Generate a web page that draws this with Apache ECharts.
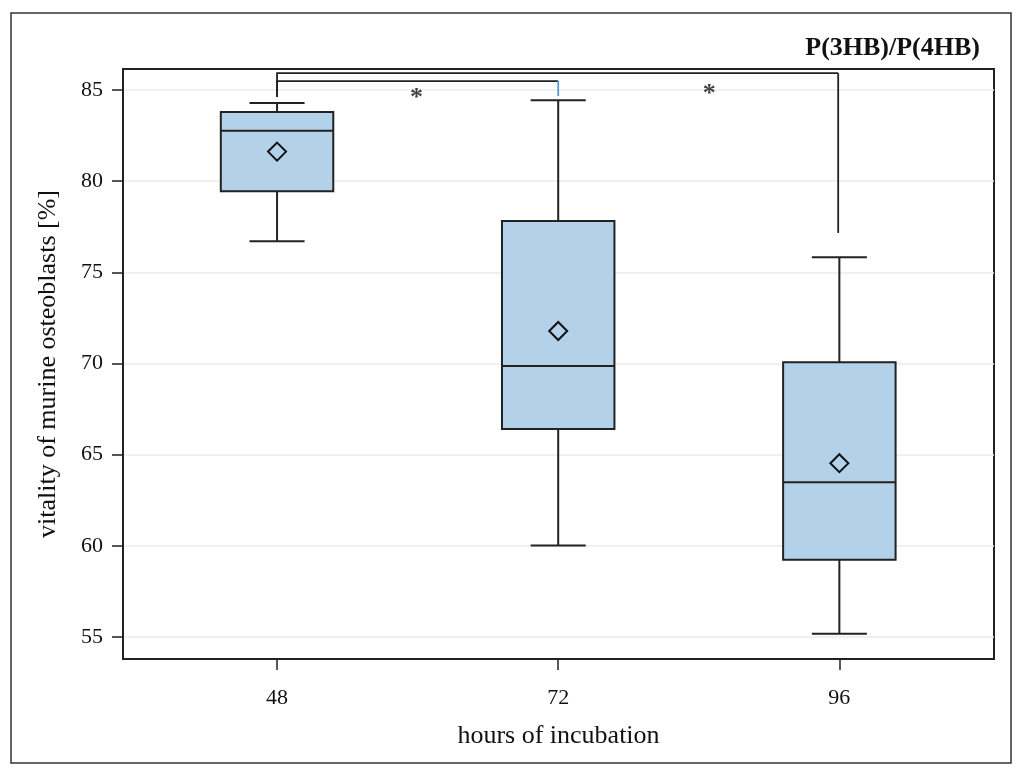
<!DOCTYPE html>
<html>
<head>
  <meta charset='utf-8'>
  <script src="https://cdn.jsdelivr.net/npm/echarts@6/dist/echarts.min.js"></script>
  <title>vitality box plot</title>
  <style>
    html, body { margin: 0; padding: 0; background: #fff; }
    #chart { width: 1024px; height: 779px; }
  </style>
</head>
<body>
<div id="chart"></div>
<script type="text/javascript">
  // 数据
  var hours = [48, 72, 96];
  var whiskerLow = [76.70, 60.02, 55.18];
  var q1 = [79.44, 66.41, 59.24];
  var median = [82.77, 69.86, 63.48];
  var q3 = [83.79, 77.82, 70.07];
  var whiskerHigh = [84.29, 84.43, 75.82];
  var mean = [81.62, 71.78, 64.53];
  var yTicks = [55, 60, 65, 70, 75, 80, 85];

  // significance brackets
  var bracketFrom = [48, 48];
  var bracketTo = [72, 95.9];
  var bracketLevel = [85.49, 85.92];
  var bracketFromEnd = [84.62, 84.62];
  var bracketToEnd = [84.67, 77.16];
  var starX = [59.9, 84.9];
  var starY = [84.56, 84.78];

  var FONT = 'Liberation Serif';
  var BOX_W = 9.6;   // in hours
  var CAP_W = 4.7;
  var INK = '#222';

  var boxData = hours.map(function (h, i) {
    return [h, whiskerLow[i], q1[i], median[i], q3[i], whiskerHigh[i], mean[i]];
  });
  var bracketData = bracketFrom.map(function (f, i) {
    return [f, bracketTo[i], bracketLevel[i], bracketFromEnd[i], bracketToEnd[i], i];
  });
  var starData = starX.map(function (x, i) { return [x, starY[i]]; });

  function renderBox(params, api) {
    var x = api.value(0);
    var pLow = api.coord([x, api.value(1)]);
    var pQ1 = api.coord([x, api.value(2)]);
    var pMed = api.coord([x, api.value(3)]);
    var pQ3 = api.coord([x, api.value(4)]);
    var pHigh = api.coord([x, api.value(5)]);
    var pMean = api.coord([x, api.value(6)]);
    var hb = api.size([BOX_W, 0])[0] / 2;
    var hc = api.size([CAP_W, 0])[0] / 2;
    var cx = pMed[0];
    var ln = { stroke: INK, lineWidth: 2 };
    var d = 9;
    return {
      type: 'group',
      children: [
        { type: 'line', shape: { x1: cx, y1: pHigh[1], x2: cx, y2: pQ3[1] }, style: ln },
        { type: 'line', shape: { x1: cx - hc, y1: pHigh[1], x2: cx + hc, y2: pHigh[1] }, style: ln },
        { type: 'line', shape: { x1: cx, y1: pQ1[1], x2: cx, y2: pLow[1] }, style: ln },
        { type: 'line', shape: { x1: cx - hc, y1: pLow[1], x2: cx + hc, y2: pLow[1] }, style: ln },
        { type: 'rect', shape: { x: cx - hb, y: pQ3[1], width: hb * 2, height: pQ1[1] - pQ3[1] },
          style: { fill: '#b3d2ea', stroke: INK, lineWidth: 2 } },
        { type: 'line', shape: { x1: cx - hb, y1: pMed[1], x2: cx + hb, y2: pMed[1] }, style: ln },
        { type: 'polygon', shape: { points: [[cx, pMean[1] - d], [cx + d, pMean[1]], [cx, pMean[1] + d], [cx - d, pMean[1]]] },
          style: { fill: 'none', stroke: '#111', lineWidth: 2 } }
      ]
    };
  }

  function renderBracket(params, api) {
    var a = api.coord([api.value(0), api.value(2)]);
    var b = api.coord([api.value(1), api.value(2)]);
    var aEnd = api.coord([api.value(0), api.value(3)]);
    var bEnd = api.coord([api.value(1), api.value(4)]);
    var idx = api.value(5);
    var ln = { stroke: INK, lineWidth: 1.8, fill: 'none' };
    var kids = [
      { type: 'polyline', shape: { points: [aEnd, a, b] }, style: ln }
    ];
    if (idx === 0) {
      // 第一个括号右端是蓝色的小竖线
      kids.push({ type: 'line', shape: { x1: b[0], y1: b[1], x2: bEnd[0], y2: bEnd[1] },
        style: { stroke: '#5b9bd5', lineWidth: 1.8 } });
    } else {
      kids.push({ type: 'line', shape: { x1: b[0], y1: b[1], x2: bEnd[0], y2: bEnd[1] }, style: ln });
    }
    return { type: 'group', children: kids };
  }

  var chart = echarts.init(document.getElementById('chart'));

  var option = {
    backgroundColor: '#fff',
    animation: false,
    textStyle: { fontFamily: FONT },
    title: {
      text: 'P(3HB)/P(4HB)',
      right: 39,
      top: 30,
      textStyle: { fontFamily: FONT, fontSize: 26, fontWeight: 'bold', color: '#111' }
    },
    graphic: [{
      type: 'rect',
      shape: { x: 11, y: 13, width: 1000, height: 750 },
      style: { fill: 'none', stroke: '#333', lineWidth: 1.5 },
      silent: true
    }],
    grid: {
      left: 123, right: 30, top: 69, bottom: 120,
      show: true, borderColor: INK, borderWidth: 2, backgroundColor: 'transparent'
    },
    xAxis: {
      type: 'value',
      min: 34.85,
      max: 109.2,
      name: 'hours of incubation',
      nameLocation: 'middle',
      nameGap: 64,
      nameTextStyle: { fontFamily: FONT, fontSize: 26, color: '#111' },
      axisLine: { show: true, lineStyle: { color: INK, width: 2 } },
      axisTick: { show: true, customValues: hours, length: 11, lineStyle: { color: INK, width: 1.5 } },
      axisLabel: { customValues: hours, margin: 28, fontFamily: FONT, fontSize: 22, color: '#111' },
      splitLine: { show: false }
    },
    yAxis: {
      type: 'value',
      min: 53.79,
      max: 86.15,
      name: 'vitality of murine osteoblasts [%]',
      nameLocation: 'middle',
      nameGap: 62,
      nameTextStyle: { fontFamily: FONT, fontSize: 26, color: '#111' },
      axisLine: { show: true, lineStyle: { color: INK, width: 2 } },
      axisTick: { show: true, customValues: yTicks, length: 11, lineStyle: { color: INK, width: 1.5 } },
      axisLabel: { customValues: yTicks, margin: 20, fontFamily: FONT, fontSize: 22, color: '#111',
        formatter: function (v) { return Math.round(v); } },
      splitLine: { show: true, lineStyle: { color: '#ebebeb', width: 1.5 } }
    },
    series: [{
      type: 'custom',
      renderItem: renderBox,
      data: boxData,
      encode: { x: 0, y: [1, 2, 3, 4, 5, 6] },
      z: 3
    }, {
      type: 'custom',
      renderItem: renderBracket,
      data: bracketData,
      encode: { x: [0, 1], y: [2, 3, 4] },
      z: 4
    }, {
      type: 'scatter',
      data: starData,
      symbolSize: 0,
      label: {
        show: true, position: 'inside', formatter: '*',
        fontFamily: FONT, fontSize: 26, fontWeight: 'bold', color: '#111'
      },
      z: 5
    }]
  };

  chart.setOption(option);
</script>
</body>
</html>
